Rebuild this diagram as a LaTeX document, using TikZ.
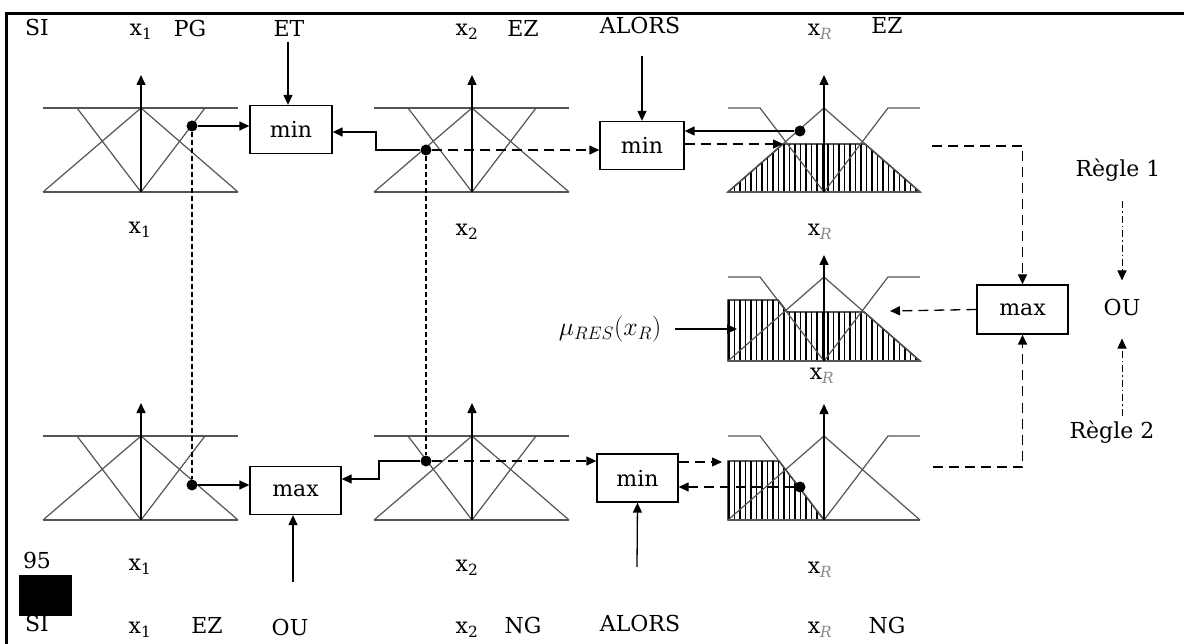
\documentclass[tikz,border=0pt]{standalone}
\usepackage{fontspec}
\setmainfont{DejaVu Serif}
\usepackage{tikz}
\usetikzlibrary{arrows.meta,positioning,calc}
\definecolor{fline}{HTML}{555555}
\definecolor{subg}{HTML}{8A8A8A}
\newcommand\xl[1]{x\textsubscript{#1}}
\newcommand\xr{\xl{\textcolor{subg}{\textit{R}}}}
\tikzset{
  >={Triangle[length=10pt,width=9pt]},
  opbox/.style={draw,line width=1.3pt,minimum width=84pt,minimum height=48pt,inner sep=0pt,font=\fontsize{22}{26}\selectfont},
  lab/.style={font=\fontsize{22}{26}\selectfont,inner sep=0pt},
  mf/.style={draw=fline,line width=1.2pt},
  axe/.style={->,line width=1.5pt},
  arr/.style={->,line width=1.3pt},
  darr/.style={->,line width=1.3pt,dash pattern=on 10pt off 6pt},
  ddarr/.style={->,line width=1pt,dash pattern=on 7pt off 3pt on 1.5pt off 3pt},
  vlink/.style={line width=1.1pt,dash pattern=on 5pt off 3pt},
  dot/.style={circle,fill,inner sep=0pt,minimum size=11pt},
  hatch/.style={line width=1.4pt},
}

\begin{document}
\begin{tikzpicture}[x=1pt,y=-1pt]
\useasboundingbox (0,0) rectangle (1184,644);
% frame
\draw[line width=3pt] (6,644) -- (6,14) -- (1184,14);
\fill (19,575) rectangle (72,616);

% hatched output sets
\begin{scope}
  \clip (728,192) -- (783,144) -- (865,144) -- (920,192) -- cycle;
  \foreach \hx in {729,734.5,...,921} \draw[hatch] (\hx,140) -- (\hx,200);
\end{scope}
\draw[hatch] (728,192) -- (783,144) -- (865,144) -- (920,192) -- cycle;
\begin{scope}
  \clip (728,361) -- (728,300) -- (778,300) -- (787,312) -- (864,312) -- (920,361) -- cycle;
  \foreach \hx in {729,734.5,...,921} \draw[hatch] (\hx,290) -- (\hx,370);
\end{scope}
\draw[hatch] (728,361) -- (728,300) -- (778,300) -- (787,312) -- (864,312) -- (920,361) -- cycle;
\begin{scope}
  \clip (728,520) -- (728,461) -- (779,461) -- (824,520) -- cycle;
  \foreach \hx in {729,734.5,...,825} \draw[hatch] (\hx,455) -- (\hx,525);
\end{scope}
\draw[hatch] (728,520) -- (728,461) -- (779,461) -- (824,520) -- cycle;

% input sets x1, x2
\foreach \cx/\cy in {141/108,472/108,141/436,472/436}{
  \draw[mf] (\cx-98,\cy) -- (\cx+97,\cy) (\cx-98,\cy+84) -- (\cx+97,\cy+84);
  \draw[mf] (\cx-64,\cy) -- (\cx,\cy+84) -- (\cx+64,\cy);
  \draw[mf] (\cx-98,\cy+84) -- (\cx,\cy) -- (\cx+97,\cy+84);
  \draw[axe] (\cx,\cy+84) -- (\cx,\cy-33);
}
% output sets xR
\foreach \cy/\ty in {108/75,277/255,436/404}{
  \draw[mf] (728,\cy) -- (760,\cy) -- (824,\cy+84) -- (888,\cy) -- (920,\cy);
  \draw[mf] (728,\cy+84) -- (824,\cy) -- (920,\cy+84);
  \draw[mf] (728,\cy+84) -- (920,\cy+84);
  \draw[axe] (824,\cy+84) -- (824,\ty);
}

% operators
\node[opbox,minimum width=82pt] (minA) at (291,129.5) {min};
\node[opbox] (minB) at (642,145.5) {min};
\node[opbox,minimum width=91pt] (maxA) at (295.5,490.5) {max};
\node[opbox,minimum width=81pt] (minC) at (637.5,478) {min};
\node[opbox,minimum width=91pt,minimum height=49pt] (maxR) at (1022.5,309.5) {max};

% texts
\node[lab] (lSI1) at (37,27) {SI};
\node[lab] (lxa1) at (141,32) {\xl{1}};
\node[lab] (lPG) at (190,28) {PG};
\node[lab] (lET) at (289,28) {ET};
\node[lab] (lxb1) at (467,32) {\xl{2}};
\node[lab] (lEZ1) at (523,28) {EZ};
\node[lab] (lAL1) at (640,25) {ALORS};
\node[lab] (lxr1) at (820,32) {\xr};
\node[lab] (lEZ2) at (887,25) {EZ};
\node[lab] (lxa2) at (140,230) {\xl{1}};
\node[lab] (lxb2) at (467,232) {\xl{2}};
\node[lab] (lxr2) at (820,232) {\xr};
\node[lab] (lR1) at (1118,170) {Règle 1};
\node[lab] (lOU) at (1122,307) {OU};
\node[lab] (lR2) at (1112,432) {Règle 2};
\node[lab,scale=1.25] (lmu) at (610,329) {$\mu_{RES}(x_R)$};
\node[lab] (lxr3) at (822,376) {\xr};
\node[lab] (l95) at (37,560) {95};
\node[lab] (lxa3) at (140,567) {\xl{1}};
\node[lab] (lxb3) at (467,568) {\xl{2}};
\node[lab] (lxr4) at (820,570) {\xr};
\node[lab] (lSI2) at (37,623) {SI};
\node[lab] (lxa4) at (140,630) {\xl{1}};
\node[lab] (lEZ3) at (207,625) {EZ};
\node[lab] (lOU2) at (290,627) {OU};
\node[lab] (lxb4) at (467,630) {\xl{2}};
\node[lab] (lNG1) at (523,625) {NG};
\node[lab] (lAL2) at (640,623) {ALORS};
\node[lab] (lxr5) at (820,630) {\xr};
\node[lab] (lNG2) at (887,625) {NG};

% membership points
\node[dot] (d1) at (192,126) {};
\node[dot] (d2) at (426,150) {};
\node[dot] (d3) at (800,131) {};
\node[dot] (d4) at (192,485) {};
\node[dot] (d5) at (426,461) {};
\node[dot] (d6) at (800,487) {};

\coordinate (tET) at (288,42);
\coordinate (tAL1) at (642,56);
\coordinate (tOU) at (293,582);
\coordinate (tAL2) at (637,567);
\coordinate (kA) at (376,132);
\coordinate (kB) at (379,479);
\coordinate (hA) at (783,144);
\coordinate (hB) at (722,462);
\coordinate (oA) at (932,146);
\coordinate (oB) at (933,467);
\coordinate (rA) at (890,311);
\coordinate (muT) at (737,329);

% rule 1
\draw[arr] (d1) -- (d1 -| minA.west);
\draw[arr] (tET) -- (tET |- minA.north);
\draw[arr] (d2) -| (kA) -- (kA -| minA.east);
\draw[darr] (d2) -- (d2 -| minB.west);
\draw[arr] (tAL1) -- (minB.north);
\draw[arr] (d3) -- (d3 -| minB.east);
\draw[darr] (minB.east |- hA) -- (hA);
\draw[darr] (oA) -| (maxR.north);
% rule 2
\draw[arr] (d4) -- (d4 -| maxA.west);
\draw[arr] (tOU) -- (tOU |- maxA.south);
\draw[arr] (d5) -| (kB) -- (kB -| maxA.east);
\draw[darr] (d5) -- (d5 -| minC.west);
\draw[arr] (tAL2) -- (minC.south);
\draw[darr] (minC.east |- hB) -- (hB);
\draw[darr] (d6) -- (d6 -| minC.east);
\draw[darr] (oB) -| (maxR.south);
% links and aggregation
\draw[vlink] (d1) -- (d4);
\draw[vlink] (d2) -- (d5);
\draw[darr] (maxR.west) -- (rA);
\draw[arr] ($(lmu.east)+(14,0)$) -- (muT);
\draw[ddarr,shorten <=20pt,shorten >=18pt] (lOU |- lR1.south) -- (lOU.north);
\draw[ddarr,shorten <=5pt,shorten >=23pt] (lOU |- lR2.north) -- (lOU.south);
\end{tikzpicture}
\end{document}
